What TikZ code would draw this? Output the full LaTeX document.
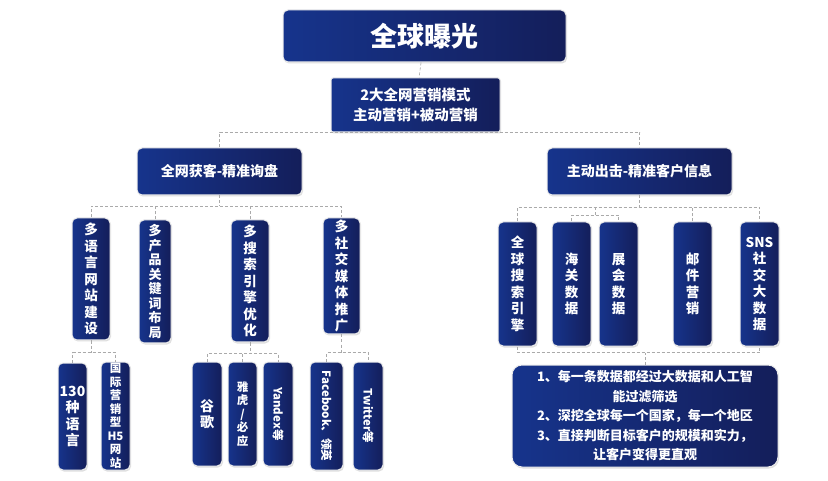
\documentclass[tikz,border=0pt]{standalone}
\usepackage{fontspec}
\newfontfamily\cjk{Noto Sans CJK SC}
\usetikzlibrary{shadows,calc}
\definecolor{navyl}{RGB}{22,52,140}
\definecolor{navyd}{RGB}{20,30,90}
\definecolor{linkgray}{RGB}{170,170,170}
\begin{document}
\begin{tikzpicture}[x=1pt,y=-1pt]
	\tikzstyle{c-box}=[rounded corners=5pt,draw=white!85!gray,line width=1pt,left color=navyl,right color=navyd,
		text=white,font=\cjk\bfseries,align=center,inner sep=0pt,drop shadow={opacity=0.25,shadow xshift=1pt,shadow yshift=-1.5pt}]
	\tikzstyle{v-box}=[c-box,font=\cjk\bfseries\fontsize{13.5}{16.5}\selectfont]
	\tikzstyle{s-box}=[c-box,font=\cjk\bfseries\fontsize{11.5}{13.5}\selectfont]
	\tikzstyle{link}=[draw=linkgray,densely dashed,line width=0.6pt]
	\useasboundingbox[fill=white] (0,0) rectangle (828,481);

	% top levels
	\node[c-box,minimum width=283,minimum height=52,font=\cjk\bfseries\fontsize{27}{30}\selectfont] (top) at (424.5,36) {全球曝光};
	\node[c-box,rounded corners=2pt,minimum width=169,minimum height=54,font=\cjk\bfseries\fontsize{14.5}{20}\selectfont] (mode) at (415.5,105) {2大全网营销模式\\主动营销+被动营销};
	\node[c-box,minimum width=165,minimum height=47,font=\cjk\bfseries\fontsize{14}{16}\selectfont] (left) at (219.5,171.5) {全网获客-精准询盘};
	\node[c-box,minimum width=185,minimum height=47,font=\cjk\bfseries\fontsize{14}{16}\selectfont] (right) at (639.5,171.5) {主动出击-精准客户信息};

	% left branch
	\node[v-box,minimum width=38,minimum height=122] (web) at (91,279) {多\\语\\言\\网\\站\\建\\设};
	\node[v-box,minimum width=32,minimum height=123,font=\cjk\bfseries\fontsize{13}{14.5}\selectfont] (kw) at (155,281.5) {多\\产\\品\\关\\键\\词\\布\\局};
	\node[v-box,minimum width=38,minimum height=122] (seo) at (250,281) {多\\搜\\索\\引\\擎\\优\\化};
	\node[v-box,minimum width=37,minimum height=116] (sns) at (341.5,276) {多\\社\\交\\媒\\体\\推\\广};

	\node[s-box,minimum width=29,minimum height=107,font=\cjk\bfseries\fontsize{14}{16.5}\selectfont] (lang) at (72.5,416.5) {130\\种\\语\\言};
	\node[s-box,minimum width=29,minimum height=108] (h5) at (115.5,416) {国\\际\\营\\销\\型\\H5\\网\\站};
	\node[s-box,minimum width=30,minimum height=104,font=\cjk\bfseries\fontsize{14}{16.5}\selectfont] (gg) at (207,414) {谷\\歌};
	\node[s-box,minimum width=29,minimum height=104] (yh) at (242.5,414) {雅\\虎\\/\\必\\应};
	\node[s-box,minimum width=30,minimum height=104] (yx) at (278,414) {\rotatebox{-90}{Yandex等}};
	\node[s-box,minimum width=33,minimum height=108] (fb) at (326.5,416) {\rotatebox{-90}{Facebook、领英}};
	\node[s-box,minimum width=30,minimum height=108] (tw) at (368,416) {\rotatebox{-90}{Twitter等}};

	% right branch
	\node[v-box,minimum width=39,minimum height=124] (se) at (517.5,284) {全\\球\\搜\\索\\引\\擎};
	\node[v-box,minimum width=39,minimum height=124] (hg) at (571.5,284) {海\\关\\数\\据};
	\node[v-box,minimum width=39,minimum height=124] (zh) at (618.5,284) {展\\会\\数\\据};
	\node[v-box,minimum width=39,minimum height=124] (yj) at (692.5,284) {邮\\件\\营\\销};
	\node[v-box,minimum width=39,minimum height=124] (sd) at (759.5,284) {SNS\\社\\交\\大\\数\\据};
	\node[c-box,rounded corners=10pt,minimum width=266,minimum height=102,font=\cjk\bfseries\fontsize{13}{19.5}\selectfont] (info) at (645,416)
		{1、每一条数据都经过大数据和人工智\\能过滤筛选\\2、深挖全球每一个国家，每一个地区\\3、直接判断目标客户的规模和实力，\\让客户变得更直观};

	% connectors
	\draw[link] (top) -- (mode);
	\draw[link] (left.north) |- (mode.south) -| (right.north);
	\draw[link] (left.south) -- ++(0,11) coordinate (lj);
	\draw[link] (web.north) |- (lj) -| (sns.north);
	\draw[link] (kw.north) -- (kw.north |- lj);
	\draw[link] (seo.north) -- (seo.north |- lj);
	\draw[link] (web.south) -- ++(0,12) coordinate (wj);
	\draw[link] (lang.north) |- (wj) -| (h5.north);
	\draw[link] (seo.south) -- ++(0,11) coordinate (sj);
	\draw[link] (gg.north) |- (sj) -| (yx.north);
	\draw[link] (yh.north) -- (yh.north |- sj);
	\draw[link] (sns.south) -- ++(0,18) coordinate (mj);
	\draw[link] (fb.north) |- (mj) -| (tw.north);
	\draw[link] (right.south) -- ++(0,12) coordinate (rj);
	\draw[link] (se.north) |- (rj) -| (sd.north);
	\draw[link] (yj.north) -- (yj.north |- rj);
	\coordinate (hj) at ($(hg.north)!0.5!(zh.north)+(0,-6)$);
	\draw[link] (hj |- rj) -- (hj);
	\draw[link] (hg.north) |- (hj) -| (zh.north);
	\draw[link] (se.south) -- ++(0,6) coordinate (bj) -| (sd.south);
	\draw[link] (info.north) -- (info.north |- bj);
\end{tikzpicture}
\end{document}
